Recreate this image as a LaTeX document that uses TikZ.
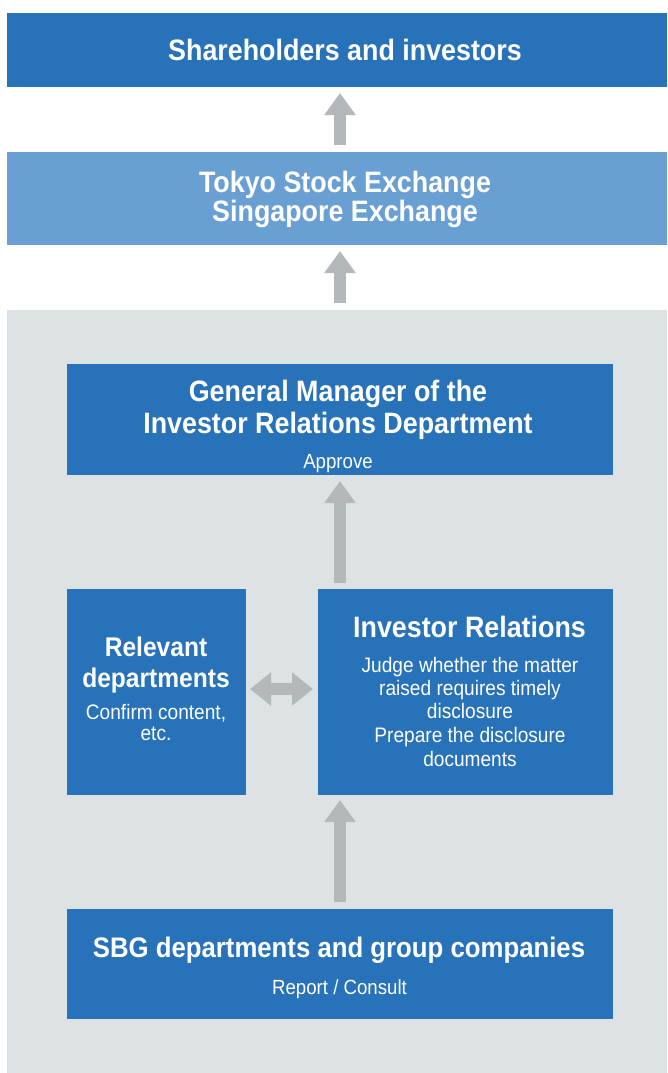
\documentclass[tikz,border=0pt]{standalone}
\usepackage{fontspec}
\setmainfont{Liberation Sans}[FakeStretch=0.91]
\usetikzlibrary{arrows.meta}

\definecolor{boxblue}{HTML}{2772B9}
\definecolor{lightblue}{HTML}{6A9FD4}
\definecolor{panelgrey}{HTML}{DDE2E5}
\definecolor{arrowgrey}{HTML}{B4B8BB}

\newcommand{\fsz}[1]{\fontsize{#1}{#1}\selectfont}

\begin{document}
\begin{tikzpicture}[x=1pt,y=-1pt,
  box/.style={fill=boxblue, draw=none, inner sep=0pt, outer sep=0pt},
  lightbox/.style={box, fill=lightblue},
  panelbox/.style={box, fill=panelgrey},
  head/.style={text=white, inner sep=0pt, anchor=base, font=\bfseries\fsz{29.5}},
  sub/.style={text=white, inner sep=0pt, anchor=base, font=\fsz{21}},
  bigarrow/.style={draw=arrowgrey, line width=12pt,
    -{Triangle[width=30pt,length=22pt]}},
  twoway/.style={draw=arrowgrey, line width=12pt,
    {Triangle[width=32pt,length=21pt]}-{Triangle[width=32pt,length=21pt]}}
]
% canvas
\fill[white] (0,0) rectangle (667,1073);
\useasboundingbox (0,0) rectangle (667,1073);

% wide bands and the grey panel
\node[box, minimum width=660pt, minimum height=74pt] (share) at (337,50) {};
\node[lightbox, minimum width=660pt, minimum height=93pt] (tse) at (337,198.5) {};
\node[panelbox, minimum width=660pt, minimum height=763pt] (panel) at (337,691.5) {};

% boxes inside the panel
\node[box, minimum width=546pt, minimum height=111pt] (gm) at (340,419.5) {};
\node[box, minimum width=179pt, minimum height=206pt] (rel) at (156.5,692) {};
\node[box, minimum width=295pt, minimum height=206pt] (ir) at (465.5,692) {};
\node[box, minimum width=546pt, minimum height=110pt] (sbg) at (340,964) {};

% texts
\node[head] (t1) at (345,60) {Shareholders and investors};
\node[head] (t2a) at (345,192) {Tokyo Stock Exchange};
\node[head] (t2b) at (345,221) {Singapore Exchange};

\node[head] (t3a) at (338,401) {General Manager of the};
\node[head] (t3b) at (338,433) {Investor Relations Department};
\node[sub, font=\fsz{20.5}] (t3c) at (338,468) {Approve};

\node[head, font=\bfseries\fsz{27}] (t4a) at (156,656) {Relevant};
\node[head, font=\bfseries\fsz{27}] (t4b) at (156,687) {departments};
\node[sub] (t4c) at (156,719.5) {Confirm content,};
\node[sub] (t4d) at (156,740.5) {etc.};

\node[head] (t5a) at (469.5,637) {Investor Relations};
\node[sub] (t5b) at (470,672.5) {Judge whether the matter};
\node[sub] (t5c) at (470,695) {raised requires timely};
\node[sub] (t5d) at (470,718.5) {disclosure};
\node[sub] (t5e) at (470,742) {Prepare the disclosure};
\node[sub] (t5f) at (470,766) {documents};

\node[head, font=\bfseries\fsz{28.3}] (t6a) at (339,957) {SBG departments and group companies};
\node[sub, font=\fsz{20.5}] (t6b) at (339.5,994) {Report / Consult};

% connectors
\draw[bigarrow, shorten <=7pt, shorten >=6pt] (tse.north -| gm.north) -- (share.south -| gm.north);
\draw[bigarrow, shorten <=7pt, shorten >=6pt] (panel.north -| gm.north) -- (tse.south -| gm.north);
\draw[bigarrow, shorten <=6pt, shorten >=6pt] (gm.south |- ir.north) -- (gm.south);
\draw[bigarrow, shorten <=7pt, shorten >=5pt] (sbg.north) -- (sbg.north |- ir.south);
\draw[twoway, shorten <=4pt, shorten >=5pt] ([yshift=3pt]rel.east) -- ([yshift=3pt]ir.west);
\end{tikzpicture}
\end{document}
